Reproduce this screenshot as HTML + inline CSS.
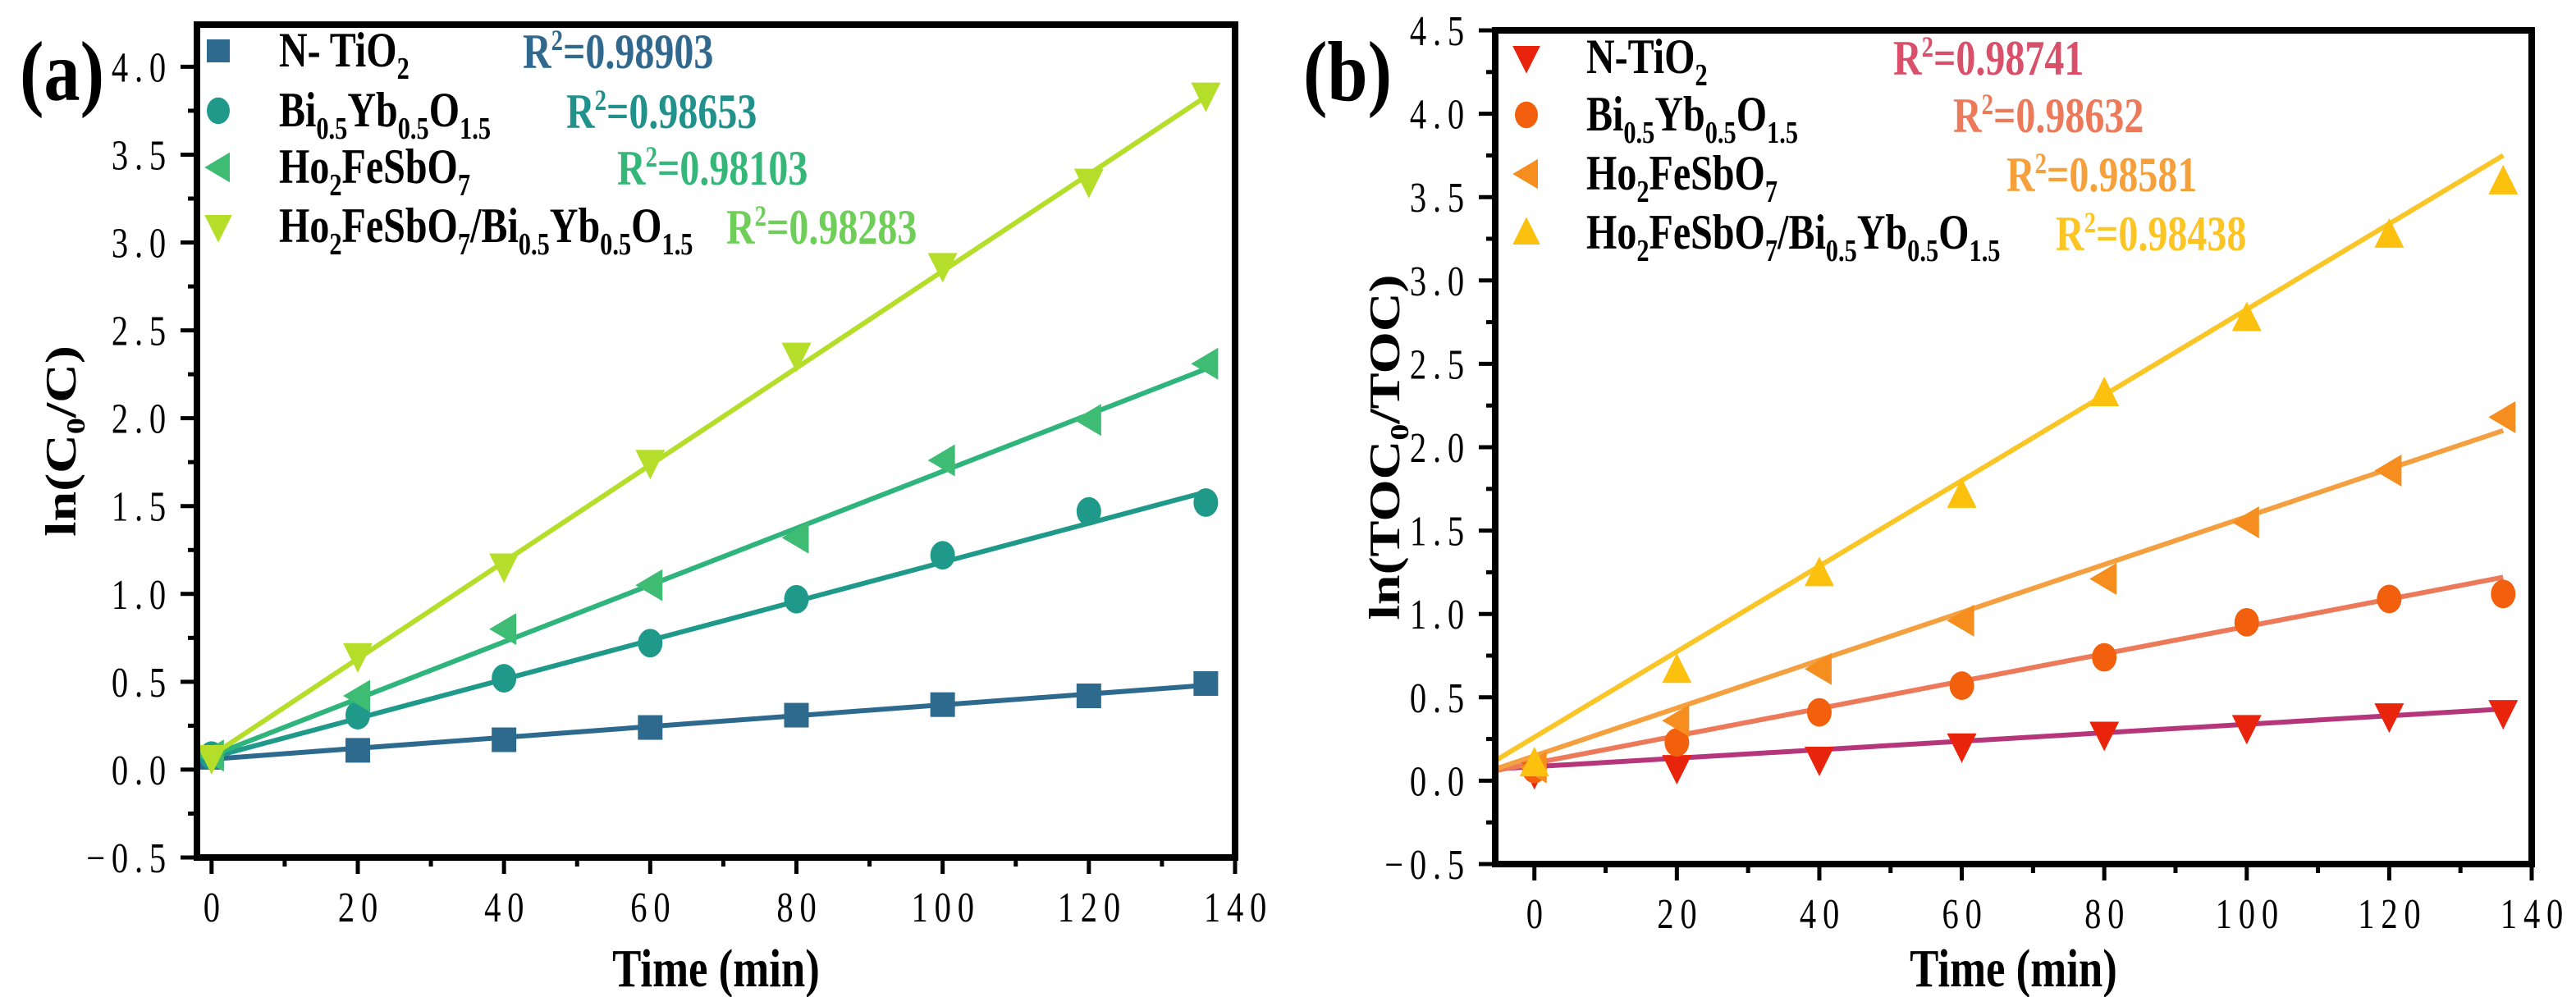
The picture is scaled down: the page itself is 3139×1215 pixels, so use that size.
<!DOCTYPE html>
<html><head><meta charset="utf-8"><style>
body{margin:0;background:#fff}
svg{display:block}
text{font-family:"Liberation Serif",serif}
.tick{font-size:52px;letter-spacing:10px}
.leg{font-size:60px;font-weight:bold}
.title{font-size:66px;font-weight:bold}
</style></head><body>
<svg id="chart" width="3139" height="1215" viewBox="0 0 3139 1215" xmlns="http://www.w3.org/2000/svg"></svg>
<script>
const times = [0,20,40,60,80,100,120,136];
const xTicks = [0,20,40,60,80,100,120,140];
const yTicksA = [-0.5,0,0.5,1,1.5,2,2.5,3,3.5,4];
const yTicksB = [-0.5,0,0.5,1,1.5,2,2.5,3,3.5,4,4.5];
const aNTiO2 = [0.07,0.11,0.17,0.24,0.31,0.37,0.42,0.49];
const aBiYb = [0.08,0.31,0.52,0.72,0.97,1.22,1.47,1.52];
const aHo = [0.08,0.42,0.80,1.05,1.32,1.76,1.99,2.31];
const aComp = [0.07,0.65,1.16,1.75,2.36,2.87,3.35,3.84];
const aFitStart = [0.06,0.07,0.08,0.08];
const aFitEnd = [0.48,1.58,2.28,3.83];
const bNTiO2 = [0.05,0.08,0.13,0.21,0.28,0.32,0.39,0.41];
const bBiYb = [0.07,0.23,0.41,0.57,0.74,0.95,1.09,1.12];
const bHo = [0.08,0.36,0.67,0.96,1.21,1.55,1.86,2.18];
const bComp = [0.10,0.66,1.24,1.71,2.32,2.77,3.27,3.59];
const bFitStart = [0.07,0.06,0.07,0.12];
const bFitEnd = [0.43,1.22,2.10,3.75];
const aR2 = ["0.98903","0.98653","0.98103","0.98283"];
const bR2 = ["0.98741","0.98632","0.98581","0.98438"];

const NS="http://www.w3.org/2000/svg";
const svg=document.getElementById('chart');
function el(tag,attrs,parent){const e=document.createElementNS(NS,tag);for(const k in attrs)e.setAttribute(k,attrs[k]);(parent||svg).appendChild(e);return e;}
function stext(parent,x,y,sx,attrs){
  const a=Object.assign({x:0,y:0,transform:`translate(${x},${y}) scale(${sx},1)`},attrs);
  return el('text',a,parent);
}
function marker(g,type,cx,cy,s,color){
  let e;
  if(type==='square')e=el('rect',{x:cx-s/2,y:cy-s/2,width:s,height:s,fill:color},g);
  else if(type==='circle')e=el('ellipse',{cx:cx,cy:cy,rx:s*0.5,ry:s*0.58,fill:color},g);
  else if(type==='left')e=el('polygon',{points:`${cx-s*0.6},${cy} ${cx+s*0.5},${cy-s*0.65} ${cx+s*0.5},${cy+s*0.65}`,fill:color},g);
  else if(type==='down')e=el('polygon',{points:`${cx-s*0.6},${cy-s*0.5} ${cx+s*0.6},${cy-s*0.5} ${cx},${cy+s*0.7}`,fill:color},g);
  else e=el('polygon',{points:`${cx-s*0.6},${cy+s*0.5} ${cx+s*0.6},${cy+s*0.5} ${cx},${cy-s*0.7}`,fill:color},g);
  return e;
}

function panel(cfg){
  const g=el('g',{});
  
  
  const X=v=>cfg.L+(v-cfg.xmin)/(cfg.xmax-cfg.xmin)*(cfg.R-cfg.L);
  const Y=v=>cfg.B-(v-cfg.ymin)/(cfg.ymax-cfg.ymin)*(cfg.B-cfg.T);
  cfg.series.forEach((s,i)=>{
    const sg=el('g',{},g);
    
    
    const ln=el('line',{x1:X(cfg.fitX0),y1:Y(cfg.fitStart[i]),x2:X(136),y2:Y(cfg.fitEnd[i]),stroke:s.line,'stroke-width':6},sg);
    
    
    s.data.forEach((v,j)=>{
      const m=marker(sg,s.shape,X(times[j]),Y(v),30,s.color);
      
      
    });
  });
  const fr=el('rect',{x:cfg.L,y:cfg.T,width:cfg.R-cfg.L,height:cfg.B-cfg.T,fill:'none',stroke:'#000','stroke-width':8},g);
  
  
  xTicks.forEach(t=>{
    el('line',{x1:X(t),y1:cfg.B,x2:X(t),y2:cfg.B+20,stroke:'#000','stroke-width':5},g);
    if(t+10<=cfg.xmax)el('line',{x1:X(t+10),y1:cfg.B,x2:X(t+10),y2:cfg.B+11,stroke:'#000','stroke-width':5},g);
    const tx=stext(g,X(t)+4,cfg.B+78,0.78,{'text-anchor':'middle',class:'tick'});
    tx.textContent=t;
    
    
  });
  cfg.yTicks.forEach(t=>{
    el('line',{x1:cfg.L,y1:Y(t),x2:cfg.L-20,y2:Y(t),stroke:'#000','stroke-width':5},g);
    if(t+0.25<cfg.ymax)el('line',{x1:cfg.L,y1:Y(t+0.25),x2:cfg.L-11,y2:Y(t+0.25),stroke:'#000','stroke-width':5},g);
    const tx=stext(g,cfg.L-30,Y(t)+18,0.78,{'text-anchor':'end',class:'tick'});
    tx.textContent=(t<0?'\u2212':'')+Math.abs(t).toFixed(1);
    
    
  });
  const xt=stext(g,(cfg.L+cfg.R)/2,1202,0.8,{'text-anchor':'middle',class:'title'});
  xt.textContent='Time (min)';
  
  
  const yt=el('text',{x:0,y:0,'text-anchor':'middle',class:'title',transform:`translate(${cfg.yTitleX},${(cfg.T+cfg.B)/2}) rotate(-90) scale(1,0.8)`},g);
  yt.innerHTML=cfg.yTitle;
  
  
  const pl=stext(g,cfg.labelX,122,0.85,{style:'font-size:104px;font-weight:bold'});
  pl.textContent=cfg.label;
  
  
  cfg.series.forEach((s,i)=>{
    const lg=el('g',{},g);
    
    
    const y=cfg.legY[i];
    marker(lg,s.shape,cfg.legMX,y,28,s.color);
    const t=stext(lg,cfg.legTX,y+19,0.8,{class:'leg'});
    t.innerHTML=s.label;
    const r=stext(lg,cfg.r2X[i],y+21,0.8,{class:'leg',fill:s.r2c});
    r.innerHTML='R<tspan dy="-22" font-size="36">2</tspan><tspan dy="22">='+cfg.r2[i]+'</tspan>';
  });
}
const sub=(a)=>`<tspan dy="15" font-size="38">${a}</tspan><tspan dy="-15">`;
const lbl={
  n:'N- TiO'+sub('2')+'</tspan>',
  bi:'Bi'+sub('0.5')+'Yb</tspan>'+sub('0.5')+'O</tspan>'+sub('1.5')+'</tspan>',
  ho:'Ho'+sub('2')+'FeSbO</tspan>'+sub('7')+'</tspan>',
  comp:'Ho'+sub('2')+'FeSbO</tspan>'+sub('7')+'/Bi</tspan>'+sub('0.5')+'Yb</tspan>'+sub('0.5')+'O</tspan>'+sub('1.5')+'</tspan>'
};
panel({name:'panel-a',label:'(a)',labelX:24,L:240,R:1505,T:30,B:1045,xmin:-2,xmax:140,ymin:-0.5,ymax:4.24,fitX0:0,
  yTicks:yTicksA,yTitleX:92,yTitle:'ln(C<tspan dy="14" font-size="40">0</tspan><tspan dy="-14">/C)</tspan>',
  fitStart:aFitStart,fitEnd:aFitEnd,r2:aR2,legY:[62,135,204,276],legMX:266,legTX:340,r2X:[637,690,752,885],
  series:[
   {key:'n-tio2',shape:'square',color:'#2e6a8e',line:'#2e6a8e',r2c:'#31688e',data:aNTiO2,label:lbl.n},
   {key:'bi-yb',shape:'circle',color:'#1f9a8a',line:'#1f9a8a',r2c:'#21918c',data:aBiYb,label:lbl.bi},
   {key:'ho-fesbo',shape:'left',color:'#3fbc73',line:'#2fb47c',r2c:'#35b779',data:aHo,label:lbl.ho},
   {key:'composite',shape:'down',color:'#b5de2b',line:'#b5de2b',r2c:'#6ece58',data:aComp,label:lbl.comp}]
});
panel({name:'panel-b',label:'(b)',labelX:1588,L:1822,R:3085,T:37,B:1053,xmin:-5.5,xmax:140,ymin:-0.5,ymax:4.5,fitX0:-5.5,
  yTicks:yTicksB,yTitleX:1705,yTitle:'ln(TOC<tspan dy="14" font-size="40">0</tspan><tspan dy="-14">/TOC)</tspan>',
  fitStart:bFitStart,fitEnd:bFitEnd,r2:bR2,legY:[70,140,212,284],legMX:1860,legTX:1933,r2X:[2307,2380,2445,2505],
  series:[
   {key:'n-tio2',shape:'down',color:'#e8250c',line:'#b5367a',r2c:'#d8506a',data:bNTiO2,label:lbl.n.replace('N- ','N-')},
   {key:'bi-yb',shape:'circle',color:'#f2600e',line:'#ec7a5a',r2c:'#ec7a5a',data:bBiYb,label:lbl.bi},
   {key:'ho-fesbo',shape:'left',color:'#f68d1f',line:'#f5a040',r2c:'#f5a03b',data:bHo,label:lbl.ho},
   {key:'composite',shape:'up',color:'#fcc10f',line:'#f9c527',r2c:'#fcc523',data:bComp,label:lbl.comp}]
});
</script>
</body></html>
